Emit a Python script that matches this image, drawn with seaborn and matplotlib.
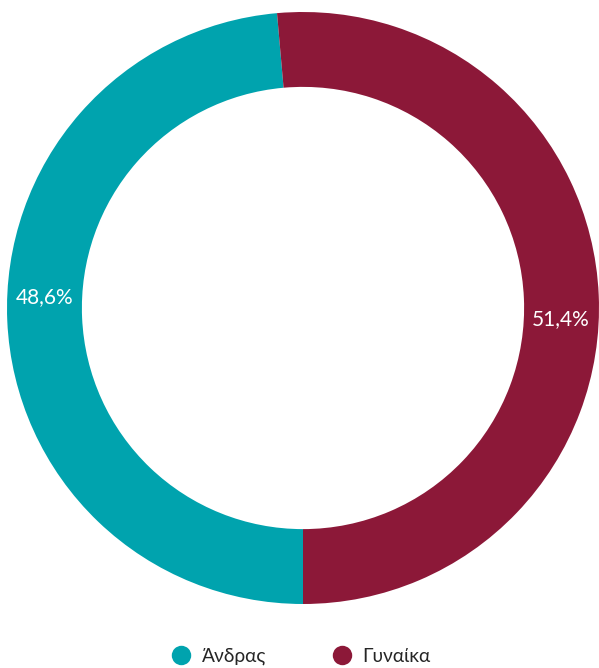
import matplotlib
matplotlib.use("Agg")
import matplotlib.pyplot as plt
from matplotlib.lines import Line2D
import seaborn as sns

categories = ["Άνδρας", "Γυναίκα"]
shares = [48.6, 51.4]
colors = ["#00A3AE", "#8C1838"]

sns.set_theme(style="white")
plt.rcParams["font.family"] = ["Lato", "DejaVu Sans"]
palette = sns.color_palette(colors)

W, H = 599, 668
fig = plt.figure(figsize=(W / 100, H / 100), dpi=100)
ax = fig.add_axes([7 / W, (H - 604) / H, 592 / W, 592 / H])

wedges, texts, autotexts = ax.pie(
    shares,
    colors=palette,
    startangle=-90,
    counterclock=False,
    radius=1.0,
    pctdistance=0.873,
    autopct=lambda p: f"{p:.1f}%".replace(".", ","),
    wedgeprops=dict(width=0.253, linewidth=0),
    textprops=dict(color="white", fontsize=15),
)
# keep the percentage labels level with the ring's horizontal axis side
for t in autotexts:
    x, y = t.get_position()
    t.set_position((x, -y))

ax.set_xlim(-1, 1)
ax.set_ylim(-1, 1)
ax.set_aspect("equal")
ax.axis("off")

handles = [
    Line2D([], [], linestyle="none", marker="o", markersize=14,
           markerfacecolor=c, markeredgewidth=0)
    for c in palette
]
fig.legend(
    handles, categories,
    loc="lower center", bbox_to_anchor=(0.503, -0.022),
    ncol=2, frameon=False, fontsize=13.8,
    handletextpad=0.55, columnspacing=3.5, handlelength=1.0,
)

fig.savefig("out.png", dpi=100)
